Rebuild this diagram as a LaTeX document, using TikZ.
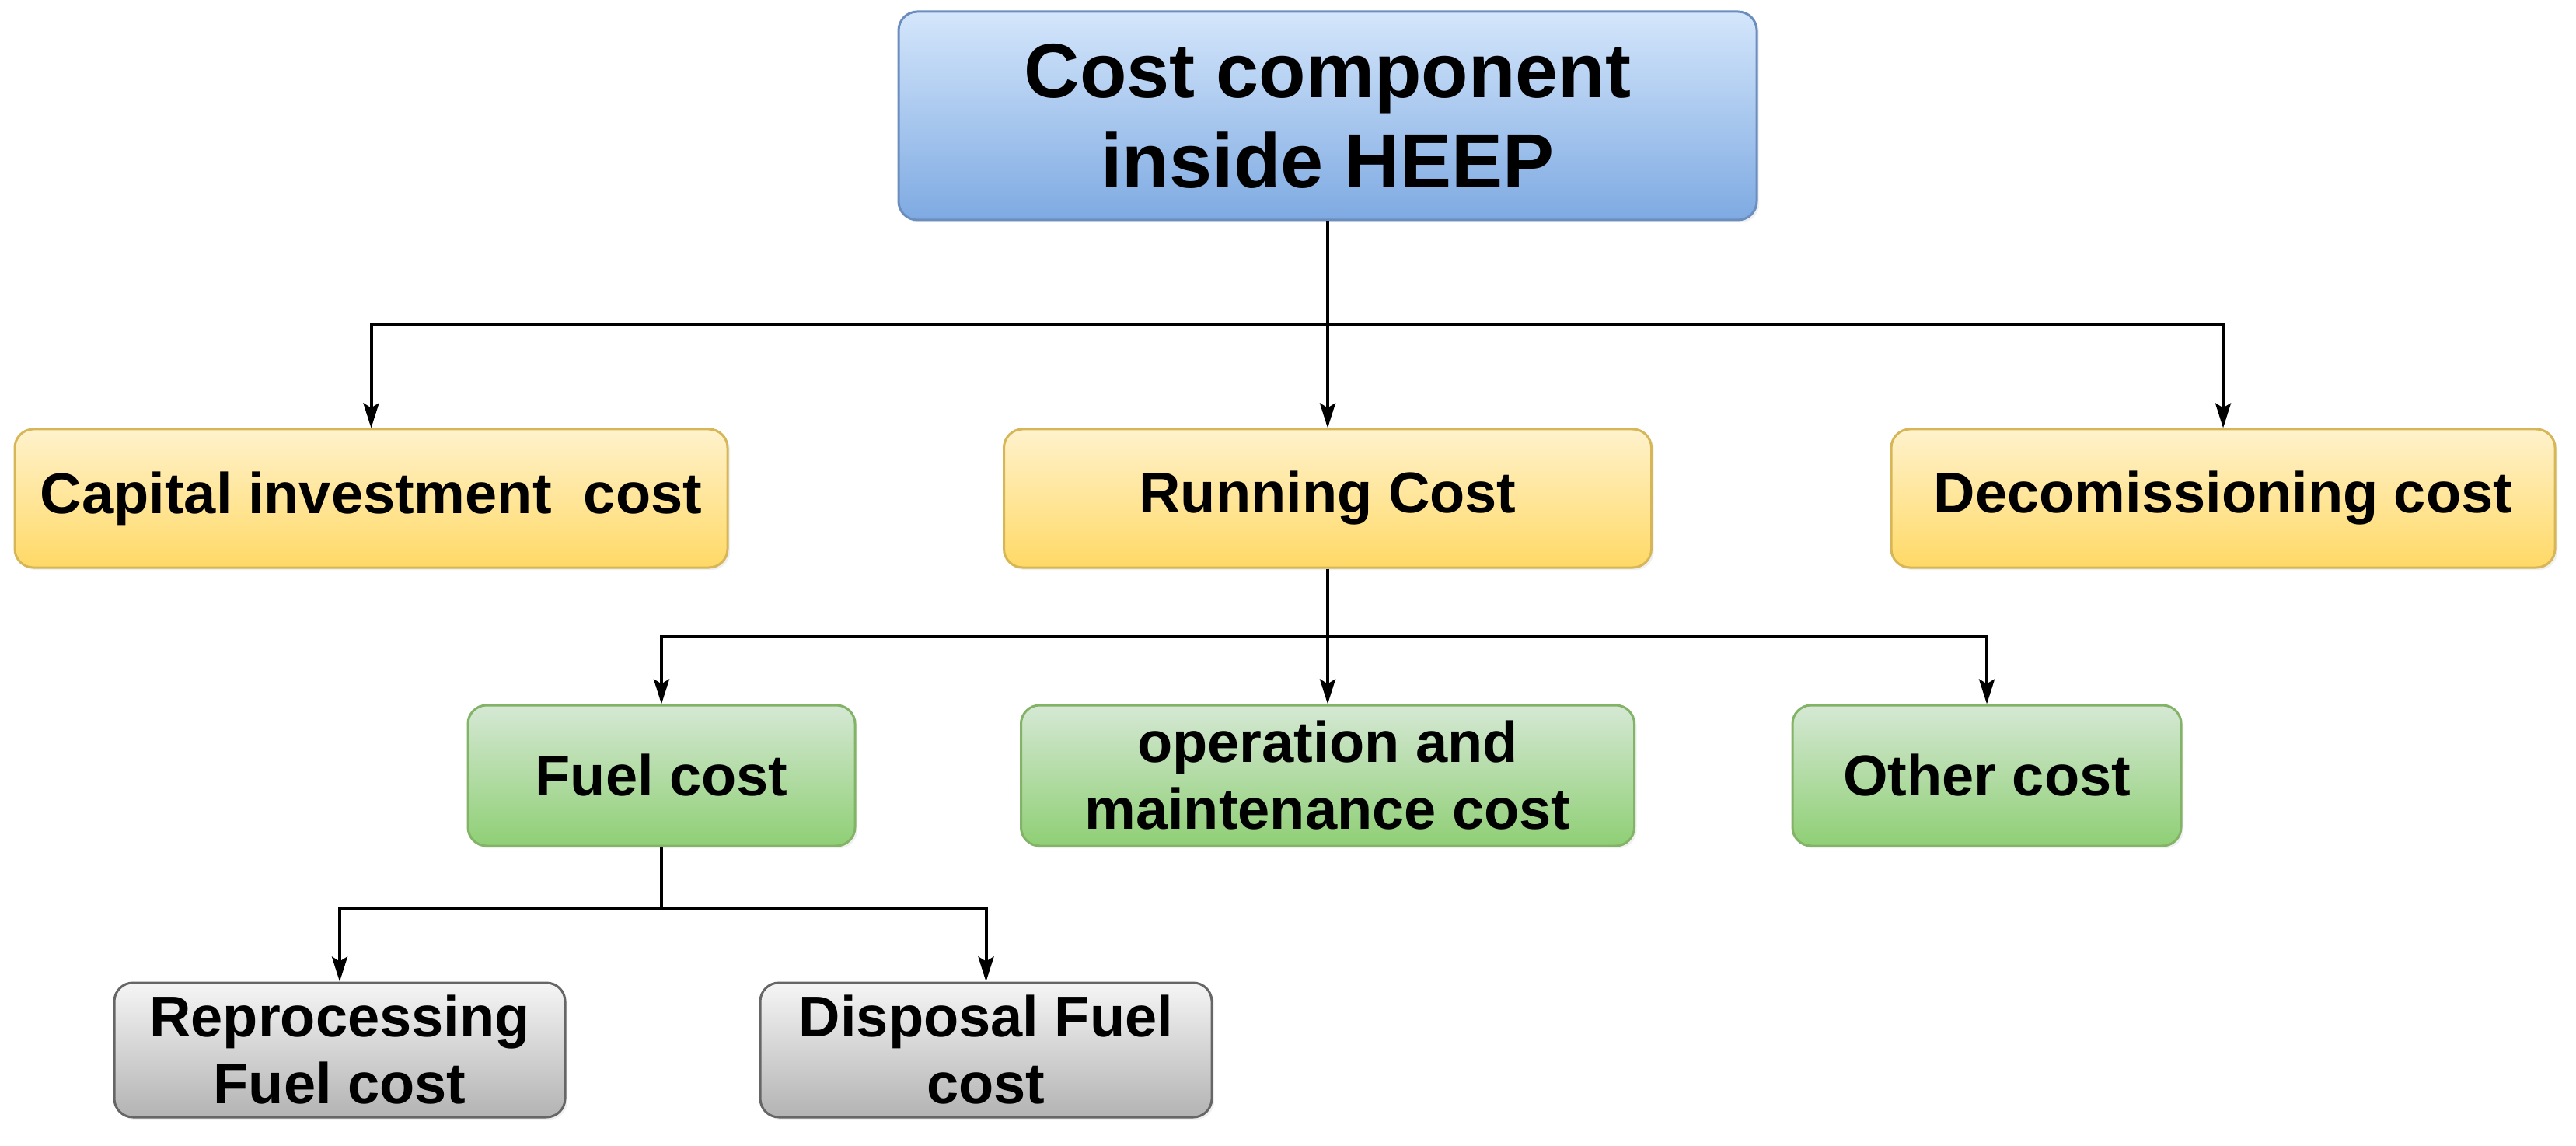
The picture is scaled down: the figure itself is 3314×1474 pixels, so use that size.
\documentclass[tikz,border=0pt]{standalone}
\usepackage{fontspec}
\setmainfont{Liberation Sans}
\usetikzlibrary{arrows.meta,shadows}
\definecolor{bluetop}{HTML}{D4E6FB}
\definecolor{bluebot}{HTML}{7EAAE2}
\definecolor{blueln}{HTML}{6C8EBF}
\definecolor{yeltop}{HTML}{FFF2CC}
\definecolor{yelbot}{HTML}{FFD966}
\definecolor{yelln}{HTML}{D6B656}
\definecolor{grntop}{HTML}{D5E8D4}
\definecolor{grnbot}{HTML}{8FCF75}
\definecolor{grnln}{HTML}{82B366}
\definecolor{grytop}{HTML}{F5F5F5}
\definecolor{grybot}{HTML}{B3B3B3}
\definecolor{gryln}{HTML}{666666}
\begin{document}
\begin{tikzpicture}[x=0.25pt,y=-0.25pt,
  box/.style={rounded corners=6pt, line width=0.75pt, inner sep=0pt, align=center,
    font=\fontsize{18.5}{21.5}\selectfont\bfseries,
    drop shadow={opacity=0.12, shadow xshift=0.8pt, shadow yshift=-0.8pt}},
  bluebox/.style={box, draw=blueln, top color=bluetop, bottom color=bluebot,
    font=\fontsize{24.75}{29}\selectfont\bfseries},
  yelbox/.style={box, draw=yelln, top color=yeltop, bottom color=yelbot},
  grnbox/.style={box, draw=grnln, top color=grntop, bottom color=grnbot},
  grybox/.style={box, draw=gryln, top color=grytop, bottom color=grybot},
  conn/.style={line width=1pt, draw=black},
  arr/.style={conn, -{Stealth[length=8pt,width=5pt,inset=1.5pt]}}
]
\useasboundingbox (0,0) rectangle (3314,1474);

\node[bluebox, minimum width=276pt, minimum height=67pt] (top) at (1708,149) {Cost component\\inside HEEP};

\node[yelbox, minimum width=229.25pt, minimum height=44.5pt] (cap) at (477.5,641) {Capital investment\ \ cost};
\node[yelbox, minimum width=208.25pt, minimum height=44.5pt] (run) at (1708,641) {Running Cost};
\node[yelbox, minimum width=213.5pt, minimum height=44.5pt] (dec) at (2860,641) {Decomissioning cost};

\node[grnbox, minimum width=124.5pt, minimum height=45.25pt] (fuel) at (851,997.5) {Fuel cost};
\node[grnbox, minimum width=197.25pt, minimum height=45.25pt] (om) at (1708,997.5) {operation and\\maintenance cost};
\node[grnbox, minimum width=125pt, minimum height=45.25pt] (oth) at (2556,997.5) {Other cost};

\node[grybox, minimum width=145pt, minimum height=43.25pt] (rep) at (437,1350.5) {Reprocessing\\Fuel cost};
\node[grybox, minimum width=145.25pt, minimum height=43.25pt] (dis) at (1268.5,1350.5) {Disposal Fuel\\cost};

\coordinate (b1) at (1708,417);
\coordinate (b2) at (1708,819);
\coordinate (b3) at (851,1169);

\draw[conn] (top.south) -- (b1);
\draw[arr] (b1) -| (cap.north);
\draw[arr] (b1) -- (run.north);
\draw[arr] (b1) -| (dec.north);

\draw[conn] (run.south) -- (b2);
\draw[arr] (b2) -| (fuel.north);
\draw[arr] (b2) -- (om.north);
\draw[arr] (b2) -| (oth.north);

\draw[conn] (fuel.south) -- (b3);
\draw[arr] (b3) -| (rep.north);
\draw[arr] (b3) -| (dis.north);
\end{tikzpicture}
\end{document}
